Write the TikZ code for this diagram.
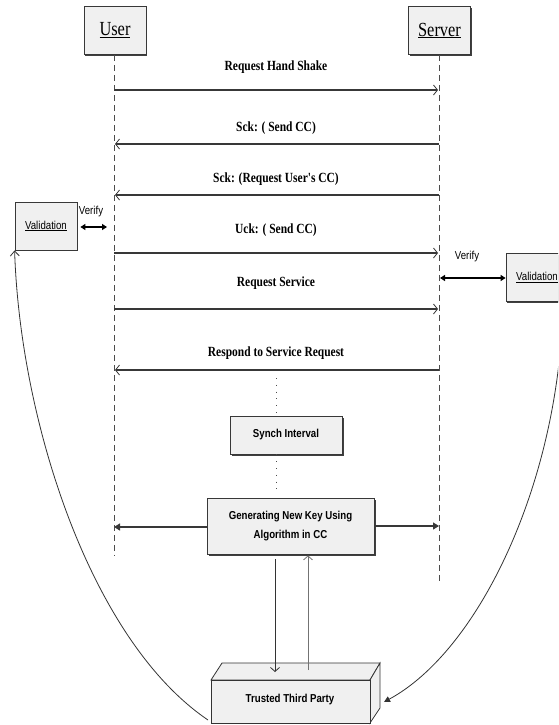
\documentclass[tikz,border=0pt]{standalone}
\usepackage{fontspec}
\setmainfont{Liberation Serif}
\newfontfamily\lblfont[FakeStretch=0.82]{Liberation Serif}
\newfontfamily\sansn[FakeStretch=0.84]{Liberation Sans}
\usetikzlibrary{arrows.meta,shadows}
\definecolor{boxgray}{HTML}{F0F0F0}
\definecolor{linegray}{HTML}{383838}
\tikzset{
  actor/.style={draw=linegray, line width=0.8pt, fill=boxgray, minimum width=62pt, minimum height=48pt,
    drop shadow={shadow xshift=1.3pt, shadow yshift=-1.3pt, fill=black!75, opacity=1},
    font=\lblfont\fontsize{20}{22}\selectfont, inner sep=0pt},
  valbox/.style={draw=linegray, line width=0.8pt, fill=boxgray, minimum width=62pt, minimum height=48pt,
    drop shadow={shadow xshift=1pt, shadow yshift=-1pt, fill=black!75, opacity=1},
    font=\sansn\fontsize{11.5}{13}\selectfont, inner sep=0pt},
  procbox/.style={draw=linegray, line width=0.8pt, fill=boxgray, inner sep=0pt,
    drop shadow={shadow xshift=1.5pt, shadow yshift=-1.5pt, fill=black!75, opacity=1},
    font=\sansn\bfseries\fontsize{11.5}{19}\selectfont, align=center},
  lifeline/.style={draw=black!70, line width=0.7pt, dash pattern=on 6pt off 4pt},
  msg/.style={draw=linegray, line width=1.2pt, -{Straight Barb[length=4pt,width=10pt,line width=0.8pt]}},
  msglbl/.style={font=\lblfont\bfseries\fontsize{14}{16}\selectfont, inner sep=0pt},
  fillarrow/.style={draw=linegray, line width=1.2pt, -{Triangle[length=6pt,width=7pt]}},
  dbl/.style={draw=black, line width=1.2pt, {Triangle[length=5pt,width=6pt]}-{Triangle[length=5pt,width=6pt]}},
  verifylbl/.style={font=\sansn\fontsize{11.5}{13}\selectfont, inner sep=0pt},
  dotline/.style={draw=black!70, line width=0.7pt, dash pattern=on 0.8pt off 6pt},
  thin/.style={draw=black!80, line width=0.8pt},
}
\begin{document}
\begin{tikzpicture}[x=1pt,y=-1pt]
\path[use as bounding box] (0,0) rectangle (558,725);
\clip (0,0) rectangle (558,725);

% actors
\node[actor] (user) at (115,30.5) {\underline{User}};
\node[actor] (server) at (439.5,30.5) {\underline{Server}};

% lifelines
\coordinate (uend) at (114,556);
\coordinate (send) at (439,582);
\draw[lifeline] (user.south -| uend) -- (uend);
\draw[lifeline] (server.south -| send) -- (send);

% messages
\coordinate (u1) at (114,90);  \coordinate (s1) at (438,90);
\coordinate (u2) at (115,144); \coordinate (s2) at (439,144);
\coordinate (u3) at (115,195); \coordinate (s3) at (439,195);
\coordinate (u4) at (114,253); \coordinate (s4) at (438,253);
\coordinate (u5) at (114,309); \coordinate (s5) at (438,309);
\coordinate (u6) at (115,370); \coordinate (s6) at (439,370);
\draw[msg] (u1) -- (s1);
\draw[msg] (s2) -- (u2);
\draw[msg] (s3) -- (u3);
\draw[msg] (u4) -- (s4);
\draw[msg] (u5) -- (s5);
\draw[msg] (s6) -- (u6);
\node[msglbl] (l1) at (276,67) {Request Hand Shake};
\node[msglbl] (l2) at (276,128) {Sck: ( Send CC)};
\node[msglbl] (l3) at (276,179) {Sck: (Request User's CC)};
\node[msglbl] (l4) at (276,230) {Uck: ( Send CC)};
\node[msglbl] (l5) at (276,283) {Request Service};
\node[msglbl] (l6) at (276,353) {Respond to Service Request};

% validations
\node[valbox] (valL) at (46,226) {\underline{Validation}};
\node[valbox] (valR) at (537,277.5) {\underline{Validation}};
\node[verifylbl] (verL) at (91,212) {Verify};
\node[verifylbl] (verR) at (467,257) {Verify};
\coordinate (vlL) at (107,227);
\coordinate (vlR) at (440,278);
\draw[dbl] (valL.east |- vlL) ++(3,0) coordinate (vaL) -- (vlL);
\draw[dbl] (vlR) -- (valR.west |- vlR);

% synch interval
\node[procbox, minimum width=112pt, minimum height=38pt] (synch) at (286,435) {Synch Interval};
\coordinate (d1) at (276,378);
\coordinate (d2) at (276,490);
\draw[dotline] (d1) -- (synch.north -| d1);
\draw[dotline] (synch.south -| d1) -- (d2);

% generating key
\node[procbox, minimum width=167pt, minimum height=56pt] (gen) at (290.5,526) {Generating New Key Using\\Algorithm in CC};
\coordinate (gL) at (114,527);
\coordinate (gR) at (439,526);
\draw[fillarrow] (gen.west |- gL) -- (gL);
\draw[fillarrow] (gen.east |- gR) -- (gR);

% trusted third party (3D box)
\coordinate (tA) at (211,680);
\coordinate (tB) at (370,680);
\coordinate (tC) at (370,723);
\coordinate (tD) at (211,723);
\coordinate (tE) at (222,663);
\coordinate (tF) at (380,663);
\coordinate (tG) at (380,708);
\draw[thin, fill=boxgray] (tA) -- (tE) -- (tF) -- (tB) -- cycle;
\draw[thin, fill=boxgray] (tB) -- (tF) -- (tG) -- (tC) -- cycle;
\draw[thin, fill=boxgray] (tA) rectangle (tC);
\node[font=\sansn\bfseries\fontsize{11.5}{13}\selectfont, inner sep=0pt] (ttp) at (290,700) {Trusted Third Party};

% vertical arrows
\coordinate (down1) at (275,672);
\coordinate (up1) at (308,670);
\draw[thin, -{Straight Barb[length=4pt,width=9pt,line width=0.8pt]}] (gen.south -| down1) ++(0,5) -- (down1);
\draw[thin, draw=black!55, -{Straight Barb[length=4pt,width=9pt,line width=0.8pt]}] (up1) -- ([yshift=-1pt]gen.south -| up1);

% big curves
\coordinate (cL) at (208,720);
\coordinate (cR0) at (563,302);
\coordinate (cR) at (384,702);
\draw[thin, -{Straight Barb[length=5pt,width=9pt,line width=0.8pt]}] (cL) .. controls (90,640) and (20,420) .. (valL.south west);
\draw[thin, -{Triangle[length=6pt,width=6pt]}] (cR0) .. controls (560,480) and (480,650) .. (cR);
\end{tikzpicture}
\end{document}
